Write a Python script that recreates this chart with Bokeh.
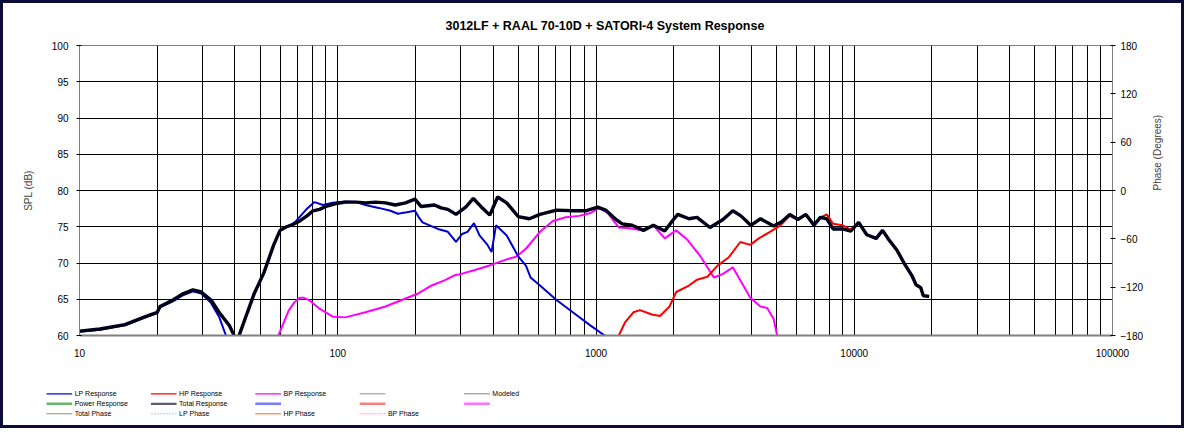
import math
from bokeh.plotting import figure
from bokeh.models import Range1d, LinearAxis, FixedTicker, NumeralTickFormatter, ColumnDataSource
from bokeh.layouts import column, row
from bokeh.embed import file_html
from bokeh.resources import INLINE
from bokeh.core.properties import value

TITLE = "3012LF + RAAL 70-10D + SATORI-4  System Response"
X_TICKS = [10, 100, 1000, 10000, 100000]
Y_TICKS = [60, 65, 70, 75, 80, 85, 90, 95, 100]
PHASE_TICKS = [-180, -120, -60, 0, 60, 120, 180]

# Total response (black)
total_f = [10, 12, 15, 18, 20, 20.5, 23, 25, 27.5, 29.6, 32.3, 34.7, 38, 39.7, 40.6, 41.5,
           44.7, 47.5, 51.7, 56.5, 59.8, 63.3, 67, 71.3, 76, 80.2, 85, 90, 98.5, 107, 118,
           128, 140, 153, 167, 183, 199, 210, 237, 251, 267, 287, 313, 335, 358, 388, 416,
           451, 500, 552, 607, 703, 813, 912, 1015, 1090, 1195, 1263, 1380, 1527, 1667,
           1846, 1955, 2073, 2291, 2462, 2763, 3103, 3386, 3640, 3974, 4337, 4873, 5239,
           5624, 6047, 6497, 6983, 7390, 7829, 8281, 9017, 9687, 10400, 11180, 12165,
           12870, 13620, 14620, 15700, 16700, 17350, 18100, 18500, 19500]
total_db = [60.6, 60.9, 61.5, 62.6, 63.2, 64.0, 64.9, 65.7, 66.3, 66.0, 64.9, 63.2, 61.4, 60.0, 58.5, 60.0,
            63.2, 65.8, 68.6, 72.5, 74.5, 75.0, 75.3, 75.8, 76.5, 77.2, 77.4, 77.8, 78.2, 78.4, 78.4,
            78.3, 78.4, 78.3, 78.0, 78.3, 78.8, 77.8, 78.0, 77.6, 77.4, 76.7, 77.7, 78.9, 77.8, 76.6, 79.1,
            78.3, 76.4, 76.1, 76.7, 77.3, 77.2, 77.2, 77.7, 77.3, 76.0, 75.4, 75.2, 74.5, 75.2,
            74.4, 75.6, 76.7, 76.1, 76.3, 74.9, 76.0, 77.2, 76.5, 75.2, 76.1, 75.1, 75.7,
            76.7, 76.0, 76.7, 75.2, 76.3, 76.1, 74.7, 74.7, 74.4, 75.6, 73.9, 73.4,
            74.5, 73.2, 71.8, 69.8, 68.3, 67.0, 66.6, 65.5, 65.4]

# LP response (blue)
lp_f = [10, 12, 15, 18, 20, 20.5, 23, 25, 27.5, 29.6, 32.3, 34.7, 36.9, 38.5, 40.5, 41.3,
        44.7, 47.5, 51.7, 56.5, 59.8, 63.3, 67, 69, 75.6, 81.3, 87.6, 95.6, 107, 118, 128,
        144, 160, 171, 185, 199, 206, 213, 244, 267, 287, 303, 318, 337, 354, 380, 394,
        410, 451, 500, 536, 558, 607, 703, 813, 950, 1080, 1200]
lp_db = [60.5, 60.8, 61.4, 62.5, 63.1, 63.9, 64.7, 65.5, 66.1, 65.8, 64.5, 62.6, 60.0, 58.0, 58.5, 60.0,
         63.2, 65.8, 68.6, 72.5, 74.5, 75.0, 75.4, 75.8, 77.4, 78.4, 78.0, 78.3, 78.5, 78.4, 78.0,
         77.6, 77.2, 76.8, 77.0, 77.2, 76.3, 75.6, 74.7, 74.3, 72.9, 74.0, 74.3, 75.5, 73.8, 72.5, 71.5,
         75.2, 73.8, 70.9, 69.6, 68.0, 66.9, 64.9, 63.2, 61.4, 60.0, 58.5]

# BP response (magenta)
bp_f = [55, 58.9, 64.5, 68, 71.3, 74, 78, 85, 95.6, 107, 128, 153, 183, 205, 231, 259, 283,
        301, 337, 390, 451, 493, 536, 607, 681, 763, 860, 954, 1025, 1108, 1225, 1355, 1504,
        1667, 1846, 2043, 2260, 2540, 2860, 3103, 3386, 3960, 4330, 4600, 4870, 5030, 5200]
bp_db = [58.0, 60.0, 63.4, 64.6, 65.2, 65.2, 64.8, 63.7, 62.6, 62.5, 63.2, 64.0, 65.1, 65.8, 66.9, 67.6, 68.3,
         68.5, 69.0, 69.7, 70.5, 70.9, 72.0, 74.3, 75.8, 76.3, 76.5, 76.9, 77.6, 76.9, 74.9, 74.8, 74.5,
         75.2, 73.4, 74.5, 73.2, 70.9, 68.0, 68.5, 69.4, 65.2, 64.0, 63.8, 62.3, 60.0, 58.0]

# HP response (red)
hp_f = [1150, 1225, 1295, 1396, 1480, 1646, 1770, 1925, 2045, 2270, 2462, 2700, 2950, 3270,
        3620, 3960, 4270, 4720, 5180, 5620, 6047, 6497, 6983, 7390, 7610, 7830, 8281, 9017,
        9687, 10400, 11180, 12165, 12870, 13620, 14620, 15700, 16700, 17350, 18100, 18500, 19500]
hp_db = [58.0, 60.0, 61.8, 63.2, 63.5, 62.9, 62.7, 64.0, 66.0, 66.8, 67.7, 68.1, 69.6, 70.8,
         72.9, 72.5, 73.4, 74.3, 75.2, 76.5, 76.0, 76.7, 75.4, 76.3, 76.5, 76.7, 75.4, 75.2,
         74.6, 75.6, 73.9, 73.3, 74.5, 73.1, 71.7, 69.7, 68.2, 66.9, 66.5, 65.4, 65.3]

# legend entries, row by row: (label, colour, dash, width)
LEGEND_ROWS = [
    [("LP Response", "#0000ff", "solid", 1.3), ("HP Response", "#ff0000", "solid", 1.3),
     ("BP Response", "#ff00ff", "solid", 1.3), ("", "#707080", "solid", 0.8), ("Modeled", "#606078", "solid", 0.8)],
    [("Power Response", "#66b866", "solid", 2.5), ("Total Response", "#5a5a72", "solid", 2.2),
     ("", "#7a7aff", "solid", 2.5), ("", "#ff7a7a", "solid", 2.5), ("", "#ff70ff", "solid", 2.5)],
    [("Total Phase", "#8a8a8a", "solid", 1.0), ("LP Phase", "#a0c8ff", "2 1", 1.0),
     ("HP Phase", "#ff6a20", "solid", 1.0), ("BP Phase", "#ff90ff", "2 1", 1.0)],
]

W = 1178
H_MAIN = 362
H_LEG = 60
FONT = "Liberation Sans"
MB_L, MB_R, MB_T, MB_B = 76, 69, 42, 30

p = figure(width=W, height=H_MAIN, x_axis_type="log",
           x_range=Range1d(10, 100000), y_range=Range1d(60, 100),
           output_backend="svg", toolbar_location=None,
           min_border_left=MB_L, min_border_right=MB_R, min_border_top=MB_T, min_border_bottom=MB_B,
           title=TITLE)
p.extra_y_ranges = {"phase": Range1d(-180, 180)}
p.background_fill_color = "white"
p.border_fill_color = "white"
p.outline_line_color = "#808080"

p.title.align = "left"
p.title.offset = 366
p.title.text_font = FONT
p.title.text_font_size = "12.5px"
p.title.text_font_style = "bold"
p.title.text_color = "#000000"
p.title.standoff = 25

grid_lines = [m * 10 ** e for e in range(1, 5) for m in range(1, 10)] + [100000]
p.xgrid.ticker = FixedTicker(ticks=grid_lines)
p.xgrid.grid_line_color = "#000000"
p.xgrid.grid_line_width = 1
p.ygrid.ticker = FixedTicker(ticks=Y_TICKS)
p.ygrid.grid_line_color = "#000000"
p.ygrid.grid_line_width = 1

xa = p.xaxis[0]
xa.ticker = FixedTicker(ticks=X_TICKS)
xa.formatter = NumeralTickFormatter(format="0")
xa.major_tick_line_color = None
xa.major_tick_out = 0
xa.major_tick_in = 0
xa.minor_tick_line_color = None
xa.minor_tick_out = 0
xa.axis_line_color = "#808080"
xa.axis_line_width = 2
xa.major_label_standoff = 13
xa.major_label_text_font = FONT
xa.major_label_text_font_size = "10px"
xa.major_label_text_color = "#000000"

ya = p.yaxis[0]
ya.ticker = FixedTicker(ticks=Y_TICKS)
ya.axis_label = "SPL (dB)"
ya.axis_label_text_font = FONT
ya.axis_label_text_font_size = "10px"
ya.axis_label_text_font_style = "normal"
ya.axis_label_standoff = 15
ya.axis_line_color = "#808080"
ya.major_tick_in = 2
ya.major_tick_out = 3
ya.major_tick_line_color = "#000000"
ya.minor_tick_line_color = None
ya.major_label_standoff = 8
ya.major_label_text_font = FONT
ya.major_label_text_font_size = "10px"
ya.major_label_text_color = "#000000"

ra = LinearAxis(y_range_name="phase", ticker=FixedTicker(ticks=PHASE_TICKS),
                axis_label="Phase (Degrees)")
ra.axis_label_text_font = FONT
ra.axis_label_text_font_size = "10px"
ra.axis_label_text_font_style = "normal"
ra.axis_label_standoff = 11
ra.axis_label_orientation = math.pi / 2
ra.axis_line_color = "#808080"
ra.major_tick_in = 2
ra.major_tick_out = 3
ra.major_tick_line_color = "#000000"
ra.minor_tick_line_color = None
ra.major_label_standoff = 5
ra.major_label_text_font = FONT
ra.major_label_text_font_size = "10px"
ra.major_label_text_color = "#000000"
p.add_layout(ra, "right")

p.line(x="f", y="db", source=ColumnDataSource(dict(f=bp_f, db=bp_db)), line_color="#ff00ff", line_width=2)
p.line(x="f", y="db", source=ColumnDataSource(dict(f=lp_f, db=lp_db)), line_color="#0000cc", line_width=2)
p.line(x="f", y="db", source=ColumnDataSource(dict(f=hp_f, db=hp_db)), line_color="#ff0000", line_width=2)
p.line(x="f", y="db", source=ColumnDataSource(dict(f=total_f, db=total_db)), line_color="#000018", line_width=3.4)

# Legend panel, in pixel coordinates of its own figure
leg = figure(width=W, height=H_LEG, x_range=Range1d(0, W), y_range=Range1d(H_LEG, 0),
             output_backend="svg", toolbar_location=None,
             x_axis_location=None, y_axis_location=None, min_border=0)
leg.grid.visible = False
leg.outline_line_color = None
leg.background_fill_color = "white"
leg.border_fill_color = "white"

COL_X0 = 43
COL_STEP = 104.4
ROW_Y0 = 28.3
ROW_STEP = 10
SWATCH = 25.7
for r, entries in enumerate(LEGEND_ROWS):
    for c, (label, color, dash, lw) in enumerate(entries):
        x0 = COL_X0 + c * COL_STEP
        y = ROW_Y0 + r * ROW_STEP
        leg.segment(x0=[x0], y0=[y], x1=[x0 + SWATCH], y1=[y], line_color=color,
                    line_width=lw, line_dash=dash)
        if label:
            leg.text(x=[x0 + SWATCH + 2.5], y=[y], text=[label], text_font=value(FONT),
                     text_font_size="7px", text_baseline="middle", text_align="left",
                     text_color="#000000")

layout = column(p, row(leg), styles={"border": "3px solid #0c0c38"})

open("out.html", "w").write(file_html(layout, INLINE))
